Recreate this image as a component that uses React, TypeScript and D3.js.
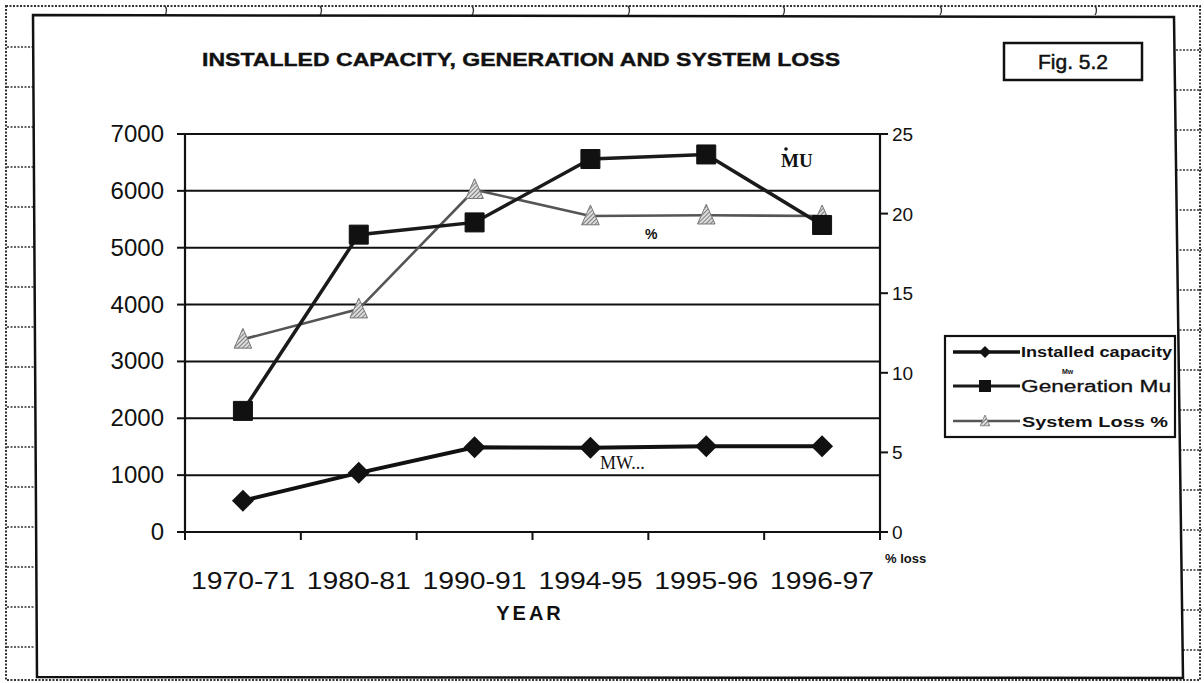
import React from "react";
import * as d3 from "d3";

const years = ["1970-71", "1980-81", "1990-91", "1994-95", "1995-96", "1996-97"];
const installedMW = [550, 1040, 1490, 1480, 1510, 1510];
const generationMU = [2130, 5230, 5445, 6560, 6640, 5400];
const systemLossPct = [12.1, 14.0, 21.5, 19.85, 19.9, 19.85];
const leftTicks = [0, 1000, 2000, 3000, 4000, 5000, 6000, 7000];
const rightTicks = [0, 5, 10, 15, 20, 25];
const legendLabels = ["Installed capacity", "Generation Mu", "System Loss %"];

const W = 1204;
const H = 683;
const PL = 185, PR = 880, PT = 134, PB = 532;

export default function App() {
  const x = d3.scaleBand<string>().domain(years).range([PL, PR]);
  const cx = (d: string) => (x(d) as number) + x.bandwidth() / 2;
  const yL = d3.scaleLinear().domain([0, 7000]).range([PB, PT]);
  const yR = d3.scaleLinear().domain([0, 25]).range([PB, PT]);

  const lineL = d3.line<number>().x((_, i) => cx(years[i])).y((v) => yL(v));
  const lineR = d3.line<number>().x((_, i) => cx(years[i])).y((v) => yR(v));

  const diamond = (px: number, py: number, r = 11) =>
    `M${px},${py - r}L${px + r},${py}L${px},${py + r}L${px - r},${py}Z`;
  const square = (px: number, py: number, r = 9.5) =>
    `M${px - r},${py - r}h${2 * r}v${2 * r}h${-2 * r}Z`;
  const tri = (px: number, py: number, r = 11) =>
    `M${px},${py - r}L${px + r * 0.8},${py + r * 0.8}L${px - r * 0.8},${py + r * 0.8}Z`;

  const leftStubs = d3.range(47, 670, 40);
  const rightStubs = d3.range(50, 670, 40);
  const topMarks = [165, 320, 472, 628, 783, 940, 1095];

  const sans = "'Liberation Sans', Arial, sans-serif";
  const serif = "'Liberation Serif', 'Times New Roman', serif";

  const legX = 945, legY = 336, legW = 230, legH = 101;
  const legRows = [352, 386, 421];

  return (
    <svg width={W} height={H} style={{ position: "absolute", left: 0, top: 0, background: "#fff" }}>
      <defs>
        <pattern id="hatch" width="3" height="3" patternUnits="userSpaceOnUse" patternTransform="rotate(45)">
          <rect width="3" height="3" fill="#ddd" />
          <line x1="0" y1="0" x2="0" y2="3" stroke="#555" strokeWidth="1.4" />
        </pattern>
      </defs>

      <rect x={6} y={6} width={W - 10} height={H - 9} fill="none" stroke="#333" strokeWidth={2} strokeDasharray="2 1.5" />
      {leftStubs.map((yy) => (
        <line key={"ls" + yy} x1={7} x2={34} y1={yy} y2={yy} stroke="#333" strokeWidth={1.6} strokeDasharray="2 1.5" />
      ))}
      {rightStubs.map((yy) => (
        <line key={"rs" + yy} x1={1176} x2={1202} y1={yy} y2={yy} stroke="#333" strokeWidth={1.6} strokeDasharray="2 1.5" />
      ))}
      {topMarks.map((xx) => (
        <path key={"tm" + xx} d={`M${xx},6 q3,4 0,9`} fill="none" stroke="#333" strokeWidth={1.3} />
      ))}

      <path d="M33,15 L1174,17 L1183,678 L37,677 Z" fill="#fff" stroke="#111" strokeWidth={2.5} />

      <text x={202} y={66} fontFamily={sans} fontWeight="bold" fontSize={19} textLength={638} lengthAdjust="spacingAndGlyphs" fill="#111" stroke="#111" strokeWidth={0.4}>
        INSTALLED CAPACITY, GENERATION AND SYSTEM LOSS
      </text>
      <rect x={1004} y={43} width={138} height={37} fill="none" stroke="#111" strokeWidth={2.5} />
      <text x={1073} y={69} textAnchor="middle" fontFamily={sans} fontSize={21} fill="#111" stroke="#111" strokeWidth={0.5}>Fig. 5.2</text>

      {leftTicks.filter((t) => t > 0).map((t) => (
        <line key={"g" + t} x1={PL} x2={PR} y1={yL(t)} y2={yL(t)} stroke="#111" strokeWidth={2} />
      ))}

      <line x1={PL} x2={PL} y1={PT} y2={PB} stroke="#111" strokeWidth={2.2} />
      <line x1={PR} x2={PR} y1={PT} y2={PB} stroke="#111" strokeWidth={2.2} />
      <line x1={PL} x2={PR} y1={PB} y2={PB} stroke="#111" strokeWidth={2.2} />

      {leftTicks.map((t) => (
        <g key={"lt" + t}>
          <line x1={PL - 8} x2={PL} y1={yL(t)} y2={yL(t)} stroke="#111" strokeWidth={2} />
          <text x={164} y={yL(t) + 8} textAnchor="end" fontFamily={sans} fontSize={24} fill="#111">{t}</text>
        </g>
      ))}
      {rightTicks.map((t) => (
        <g key={"rt" + t}>
          <line x1={PR} x2={PR + 8} y1={yR(t)} y2={yR(t)} stroke="#111" strokeWidth={2} />
          <text x={892} y={yR(t) + 7} textAnchor="start" fontFamily={sans} fontSize={19} fill="#111">{t}</text>
        </g>
      ))}
      {d3.range(years.length + 1).map((i) => {
        const xx = PL + i * x.step();
        return <line key={"xt" + i} x1={xx} x2={xx} y1={PB} y2={PB + 8} stroke="#111" strokeWidth={2} />;
      })}
      {years.map((yv) => (
        <text key={"xl" + yv} x={cx(yv)} y={589} textAnchor="middle" fontFamily={sans} fontSize={23} textLength={104} lengthAdjust="spacingAndGlyphs" fill="#111">{yv}</text>
      ))}
      <text x={530} y={620} textAnchor="middle" fontFamily={sans} fontWeight="bold" fontSize={20} letterSpacing={3} fill="#111">YEAR</text>
      <text x={885} y={563} fontFamily={sans} fontWeight="bold" fontSize={13} fill="#111">% loss</text>

      <path d={lineR(systemLossPct) as string} fill="none" stroke="#555" strokeWidth={2.6} />
      <path d={lineL(generationMU) as string} fill="none" stroke="#1a1a1a" strokeWidth={3.5} />
      <path d={lineL(installedMW) as string} fill="none" stroke="#111" strokeWidth={4} />

      {systemLossPct.map((v, i) => (
        <path key={"m3" + i} d={tri(cx(years[i]), yR(v))} fill="url(#hatch)" stroke="#777" strokeWidth={1} />
      ))}
      {generationMU.map((v, i) => (
        <path key={"m2" + i} d={square(cx(years[i]), yL(v))} fill="#111" stroke="#111" strokeWidth={1} />
      ))}
      {installedMW.map((v, i) => (
        <path key={"m1" + i} d={diamond(cx(years[i]), yL(v))} fill="#111" />
      ))}

      <circle cx={786} cy={149} r={1.8} fill="#111" />
      <text x={781} y={167} fontFamily={serif} fontWeight="bold" fontSize={19} fill="#111">MU</text>
      <text x={645} y={239} fontFamily={sans} fontWeight="bold" fontSize={14} fill="#111">%</text>
      <text x={600} y={469} fontFamily={serif} fontSize={18} fill="#111">MW...</text>

      <rect x={legX} y={legY} width={legW} height={legH} fill="#fff" stroke="#111" strokeWidth={2.2} />
      <line x1={953} x2={1020} y1={legRows[0]} y2={legRows[0]} stroke="#111" strokeWidth={3.5} />
      <path d={diamond(985, legRows[0], 6)} fill="#111" />
      <line x1={953} x2={1020} y1={legRows[1]} y2={legRows[1]} stroke="#1a1a1a" strokeWidth={3} />
      <path d={square(985, legRows[1], 6)} fill="#111" />
      <line x1={953} x2={1020} y1={legRows[2]} y2={legRows[2]} stroke="#555" strokeWidth={2.4} />
      <path d={tri(985, legRows[2], 6)} fill="url(#hatch)" stroke="#777" strokeWidth={0.8} />
      <text x={1021} y={legRows[0] + 5} fontFamily={sans} fontWeight="bold" fontSize={14} textLength={151} lengthAdjust="spacingAndGlyphs" fill="#111">{legendLabels[0]}</text>
      <text x={1062} y={legRows[1] - 12} fontFamily={sans} fontWeight="bold" fontSize={7} fill="#111">Mw</text>
      <text x={1021} y={legRows[1] + 6} fontFamily={sans} fontSize={16} textLength={150} lengthAdjust="spacingAndGlyphs" fill="#111" stroke="#111" strokeWidth={0.3}>{legendLabels[1]}</text>
      <text x={1022} y={legRows[2] + 6} fontFamily={sans} fontWeight="bold" fontSize={15} textLength={146} lengthAdjust="spacingAndGlyphs" fill="#111">{legendLabels[2]}</text>
    </svg>
  );
}
